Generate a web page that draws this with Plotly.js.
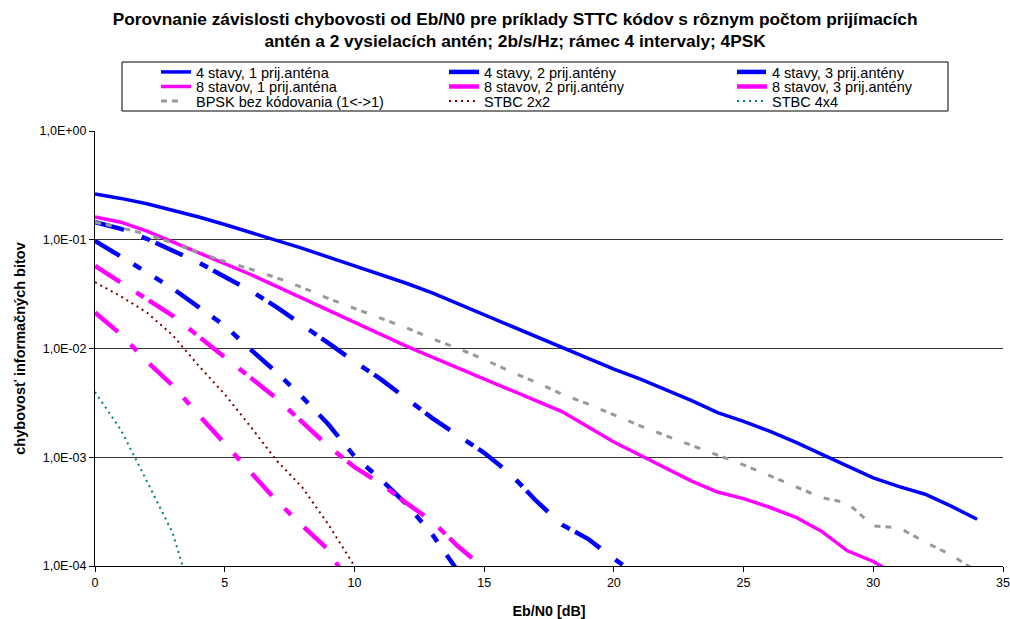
<!DOCTYPE html>
<html>
<head>
<meta charset="utf-8">
<script src="https://cdn.plot.ly/plotly-3.0.1.min.js"></script>
<style>
  html, body { margin: 0; padding: 0; background: #fff; }
  #chart { width: 1010px; height: 619px; }
</style>
</head>
<body>
<div id="chart"></div>
<script>
// Eb/N0 grid in dB (each series uses as many leading points as it has values)
const ebn0 = [0, 1, 2, 3, 4, 5, 6, 7, 8, 9, 10, 11, 12, 13, 14, 15, 16, 17, 18, 19,
              20, 21, 22, 23, 24, 25, 26, 27, 28, 29, 30, 31, 32, 33, 34];

// bit error rate of the information bits
const ber4s1a = [0.263, 0.240, 0.214, 0.186, 0.162, 0.138, 0.117, 0.100, 0.0832, 0.0692,
                 0.0575, 0.0479, 0.0398, 0.0324, 0.0257, 0.0204, 0.0162, 0.0129, 0.0102, 0.00813,
                 0.00646, 0.00525, 0.00417, 0.00331, 0.00257, 0.00214, 0.00174, 0.00138, 0.00107, 0.000832,
                 0.000646, 0.000537, 0.000457, 0.000355, 0.000269];
const ber4s2a = [0.145, 0.126, 0.102, 0.0794, 0.0617, 0.0457, 0.0339, 0.0240, 0.0166, 0.0112,
                 0.00759, 0.00525, 0.00347, 0.00229, 0.00158, 0.00110, 0.000708, 0.000398, 0.000240, 0.000178,
                 0.000117, 0.0000794];
const ber4s3a = [0.0977, 0.0708, 0.0501, 0.0355, 0.0240, 0.0162, 0.00977, 0.00603, 0.00355, 0.00200,
                 0.00102, 0.000631, 0.000372, 0.000195, 0.0000891];
const ber8s1a = [0.162, 0.145, 0.120, 0.0955, 0.0759, 0.0603, 0.0479, 0.0372, 0.0288, 0.0224,
                 0.0174, 0.0135, 0.0105, 0.00832, 0.00661, 0.00525, 0.00417, 0.00331, 0.00263, 0.00191,
                 0.00138, 0.00105, 0.000794, 0.000603, 0.000479, 0.000417, 0.000347, 0.000282, 0.000209, 0.000138,
                 0.000110, 0.0000794];
const ber8s2a = [0.0575, 0.0407, 0.0288, 0.0200, 0.0129, 0.00832, 0.00550, 0.00347, 0.00209, 0.00126,
                 0.000813, 0.000575, 0.000380, 0.000257, 0.000151, 0.0000955];
const ber8s3a = [0.0214, 0.0135, 0.00759, 0.00457, 0.00245, 0.00135, 0.000724, 0.000398, 0.000234, 0.000141,
                 0.0000562];
const berBpsk = [0.145, 0.129, 0.112, 0.0933, 0.0759, 0.0631, 0.0537, 0.0447, 0.0363, 0.0288,
                 0.0234, 0.0191, 0.0155, 0.0123, 0.0100, 0.00794, 0.00617, 0.00490, 0.00380, 0.00309,
                 0.00245, 0.00195, 0.00158, 0.00129, 0.00105, 0.000851, 0.000676, 0.000537, 0.000427, 0.000380,
                 0.000234, 0.000224, 0.000166, 0.000126, 0.0000891];
const berStbc2x2 = [0.0407, 0.0302, 0.0214, 0.0132, 0.00692, 0.00380, 0.00191, 0.000933, 0.000525, 0.000240,
                    0.000100];
const berStbc4x4 = [0.00398, 0.00178, 0.000603, 0.000200, 0.0000316];

const seriesNames = [
  '4 stavy, 1 prij.anténa', '4 stavy, 2 prij.antény', '4 stavy, 3 prij.antény',
  '8 stavov, 1 prij.anténa', '8 stavov, 2 prij.antény', '8 stavov, 3 prij.antény',
  'BPSK bez kódovania (1<->1)', 'STBC 2x2', 'STBC 4x4'
];

const yTickVals = [1, 0.1, 0.01, 0.001, 0.0001];
const yTickText = ['1,0E+00', '1,0E-01', '1,0E-02', '1,0E-03', '1,0E-04'];
const xTickVals = [0, 5, 10, 15, 20, 25, 30, 35];

const FONT = 'Liberation Sans, Arial, Helvetica, sans-serif';
const BLUE = '#0000FF', MAGENTA = '#FF00FF', GRAY = '#999999', MAROON = '#800000', TEAL = '#008080';

const DASH_LD = '30px,19px,9px,6px';            // long dash – short dash
const DASH_LDD = '29px,16px,9px,16px,9px,16px'; // long dash – two short dashes
const DASH_LDS = '30px,18px,9px,18px';          // long dash – short dash, even gaps
const DASH_GRAY = '6px,5px,6px,13px';
const DASH_DOT = '2px,4px';

function line(y, name, color, width, dash, legend) {
  return {
    type: 'scatter', mode: 'lines',
    x: ebn0.slice(0, y.length), y: y, name: name,
    line: { color: color, width: width, dash: dash },
    legend: legend, hoverinfo: 'skip'
  };
}

const data = [
  line(ber4s1a, seriesNames[0], BLUE, 3.5, 'solid', 'legend'),
  line(ber4s2a, seriesNames[1], BLUE, 4.5, DASH_LD, 'legend'),
  line(ber4s3a, seriesNames[2], BLUE, 4.5, DASH_LDD, 'legend'),
  line(ber8s1a, seriesNames[3], MAGENTA, 3.5, 'solid', 'legend2'),
  line(ber8s2a, seriesNames[4], MAGENTA, 4.5, DASH_LD, 'legend2'),
  line(ber8s3a, seriesNames[5], MAGENTA, 4.5, DASH_LDS, 'legend2'),
  line(berBpsk, seriesNames[6], GRAY, 3, DASH_GRAY, 'legend3'),
  line(berStbc2x2, seriesNames[7], MAROON, 2, DASH_DOT, 'legend3'),
  line(berStbc4x4, seriesNames[8], TEAL, 2, DASH_DOT, 'legend3')
];

// plot area in pixels
const PL = 95, PR = 7, PT = 131, PB = 53, W = 1010, H = 619;
const PW = W - PL - PR, PH = H - PT - PB;
const px2x = p => (p - PL) / PW;
const px2y = p => (H - PB - p) / PH;

function legendRow(yPx) {
  return {
    orientation: 'h', x: px2x(156), xanchor: 'left', y: px2y(yPx), yanchor: 'middle',
    entrywidth: 243, entrywidthmode: 'pixels',
    bgcolor: 'rgba(0,0,0,0)', borderwidth: 0,
    font: { family: FONT, size: 14.5, color: '#000' },
    traceorder: 'normal'
  };
}

const layout = {
  width: W, height: H,
  margin: { l: PL, r: PR, t: PT, b: PB, autoexpand: false },
  paper_bgcolor: '#ffffff', plot_bgcolor: '#ffffff',
  font: { family: FONT, size: 12.5, color: '#000' },
  showlegend: true,
  title: {
    text: 'Porovnanie závislosti chybovosti od Eb/N0 pre príklady STTC kódov s rôznym počtom prijímacích<br>antén a 2 vysielacích antén; 2b/s/Hz; rámec 4 intervaly; 4PSK',
    font: { family: FONT, size: 17.3, color: '#000', weight: 'bold' },
    xref: 'container', x: 0.51, xanchor: 'center',
    yref: 'container', y: 0.96, yanchor: 'top'
  },
  xaxis: {
    range: [0, 35], tickmode: 'array', tickvals: xTickVals,
    ticks: 'outside', ticklen: 5, tickcolor: '#000', tickwidth: 1,
    showline: true, linecolor: '#000', linewidth: 1,
    showgrid: false, zeroline: false,
    tickfont: { family: FONT, size: 12.5, color: '#000' },
    title: { text: 'Eb/N0 [dB]', font: { family: FONT, size: 14.3, color: '#000', weight: 'bold' }, standoff: 17 }
  },
  yaxis: {
    type: 'log', range: [-4, 0], tickmode: 'array', tickvals: yTickVals, ticktext: yTickText,
    ticks: 'outside', ticklen: 5, tickcolor: '#000', tickwidth: 1,
    showline: true, linecolor: '#000', linewidth: 1,
    showgrid: true, gridcolor: '#333333', gridwidth: 1, zeroline: false,
    tickfont: { family: FONT, size: 12.5, color: '#000' },
    title: { text: 'chybovosť informačných bitov', font: { family: FONT, size: 14.5, color: '#000', weight: 'bold' }, standoff: 10 }
  },
  legend: legendRow(72),
  legend2: legendRow(86.5),
  legend3: legendRow(101),
  shapes: [{
    type: 'rect', xref: 'paper', yref: 'paper',
    x0: px2x(122), x1: px2x(948), y0: px2y(111), y1: px2y(62),
    line: { color: '#000', width: 1 }, fillcolor: 'rgba(0,0,0,0)', layer: 'above'
  }]
};

Plotly.newPlot('chart', data, layout, { displayModeBar: false, staticPlot: true });
</script>
</body>
</html>
